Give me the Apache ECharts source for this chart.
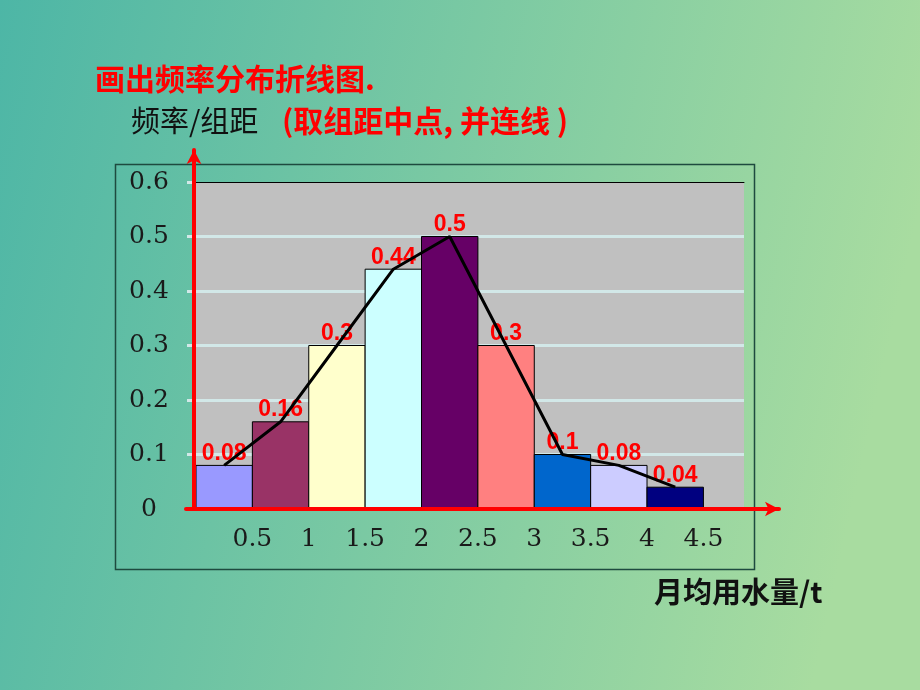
<!DOCTYPE html>
<html>
<head>
<meta charset="utf-8">
<script src="https://cdn.jsdelivr.net/npm/echarts@6/dist/echarts.min.js"></script>
<style>
html,body{margin:0;padding:0;}
#chart{width:920px;height:690px;}
</style>
</head>
<body>
<div id="chart"></div>
<script>
// ---- data ----
const binStarts = [0, 0.5, 1, 1.5, 2, 2.5, 3, 3.5, 4];
const binWidth = 0.5;
const freqPerWidth = [0.08, 0.16, 0.3, 0.44, 0.5, 0.3, 0.1, 0.08, 0.04];
const valueLabels = ['0.08', '0.16', '0.3', '0.44', '0.5', '0.3', '0.1', '0.08', '0.04'];
const barColors = ['#9999ff', '#993366', '#ffffcc', '#ccffff', '#660066', '#ff8080', '#0066cc', '#ccccff', '#000080'];
const xTickLabels = ['0.5', '1', '1.5', '2', '2.5', '3', '3.5', '4', '4.5'];
const yTickLabels = ['0', '0.1', '0.2', '0.3', '0.4', '0.5', '0.6'];
const titleText = '画出频率分布折线图.';
const yNameText = '频率/组距';
const noteText = '(取组距中点, 并连线 )';
const xNameText = '月均用水量/t';

const barData = binStarts.map((s, i) => [s, s + binWidth, freqPerWidth[i], i]);
const midData = binStarts.map((s, i) => [s + binWidth / 2, freqPerWidth[i]]);

const chart = echarts.init(document.getElementById('chart'), null, {renderer: 'canvas'});
const cjk = "'Noto Sans CJK SC', sans-serif";
const serif = "'DejaVu Serif', serif";

const option = {
  animation: false,
  backgroundColor: {
    type: 'linear', x: 0, y: 0, x2: 1, y2: 0.3,
    colorStops: [{offset: 0, color: '#4db6a6'}, {offset: 1, color: '#a8dca0'}]
  },
  title: [
    {text: titleText, left: 95, top: 64, padding: 0,
      textStyle: {color: '#ff0000', fontSize: 30, fontWeight: 'bold', fontFamily: cjk}},
    {text: yNameText, left: 131, top: 106, padding: 0,
      textStyle: {color: '#111111', fontSize: 29, fontWeight: 'normal', fontFamily: cjk}},
    {text: noteText, left: 282, top: 106, padding: 0,
      textStyle: {color: '#ff0000', fontSize: 30, fontWeight: 'bold', fontFamily: cjk}},
    {text: xNameText, left: 654, top: 577, padding: 0,
      textStyle: {color: '#111111', fontSize: 29, fontWeight: 'bold', fontFamily: cjk}}
  ],
  graphic: [
    {type: 'rect', left: 113, top: 162, z: -1,
      shape: {width: 639, height: 405},
      style: {fill: 'none', stroke: '#1e4a3f', lineWidth: 1.5}}
  ],
  grid: [
    {left: 196, right: 176, top: 182, bottom: 181, show: true, backgroundColor: '#c0c0c0', borderWidth: 0},
    {left: 186, right: 141, top: 150, bottom: 181, show: false}
  ],
  xAxis: [
    {gridIndex: 0, type: 'value', min: 0, max: 4.86, interval: 0.5,
      axisLine: {show: false}, axisTick: {show: false}, splitLine: {show: false},
      axisLabel: {margin: 18, color: '#1a1a1a', fontSize: 25, fontFamily: serif,
        formatter: v => { const s = String(Math.round(v * 100) / 100); return xTickLabels.indexOf(s) >= 0 ? s : ''; }}},
    {gridIndex: 0, type: 'value', position: 'top', min: 0, max: 4.86,
      axisLine: {show: true, lineStyle: {color: '#000', width: 1}},
      axisTick: {show: false}, axisLabel: {show: false}, splitLine: {show: false}},
    {gridIndex: 1, type: 'value', min: 0, max: 1, z: 10,
      axisLine: {show: true, onZero: false, symbol: ['none', 'arrow'], symbolSize: [11, 14],
        lineStyle: {color: '#ff0000', width: 4}},
      axisTick: {show: false}, axisLabel: {show: false}, splitLine: {show: false}}
  ],
  yAxis: [
    {gridIndex: 0, type: 'value', min: 0, max: 0.6, interval: 0.1,
      axisLine: {show: false},
      axisTick: {show: true, length: 9, lineStyle: {color: '#d2e8e8', width: 3}},
      axisLabel: {margin: 47, align: 'center', color: '#1a1a1a', fontSize: 25, fontFamily: serif,
        formatter: v => { const s = String(Math.round(v * 10) / 10); return yTickLabels.indexOf(s) >= 0 ? s : ''; }},
      splitLine: {show: true, showMinLine: false, showMaxLine: false, lineStyle: {color: '#d2e8e8', width: 3}}},
    {gridIndex: 1, type: 'value', min: 0, max: 1, offset: -8, z: 10,
      axisLine: {show: true, onZero: false, symbol: ['none', 'arrow'], symbolSize: [11, 14],
        lineStyle: {color: '#ff0000', width: 4}},
      axisTick: {show: false}, axisLabel: {show: false}, splitLine: {show: false}}
  ],
  series: [
    {
      type: 'custom', xAxisIndex: 0, yAxisIndex: 0, z: 2,
      data: barData,
      encode: {x: [0, 1], y: 2},
      renderItem: function (params, api) {
        const p0 = api.coord([api.value(0), api.value(2)]);
        const p1 = api.coord([api.value(1), 0]);
        const idx = api.value(3);
        return {
          type: 'rect',
          shape: {x: p0[0], y: p0[1], width: p1[0] - p0[0], height: p1[1] - p0[1]},
          style: {fill: barColors[idx], stroke: '#000', lineWidth: 1},
          textContent: {
            style: {text: valueLabels[idx], fill: '#ff0000', fontSize: 23, fontWeight: 'bold',
              fontFamily: "'Liberation Sans', Arial, sans-serif"}
          },
          textConfig: {position: 'top', distance: 0}
        };
      }
    },
    {
      type: 'line', xAxisIndex: 0, yAxisIndex: 0, z: 4,
      data: midData, showSymbol: false, symbol: 'none',
      lineStyle: {color: '#000', width: 3}
    }
  ]
};
chart.setOption(option);
</script>
</body>
</html>
